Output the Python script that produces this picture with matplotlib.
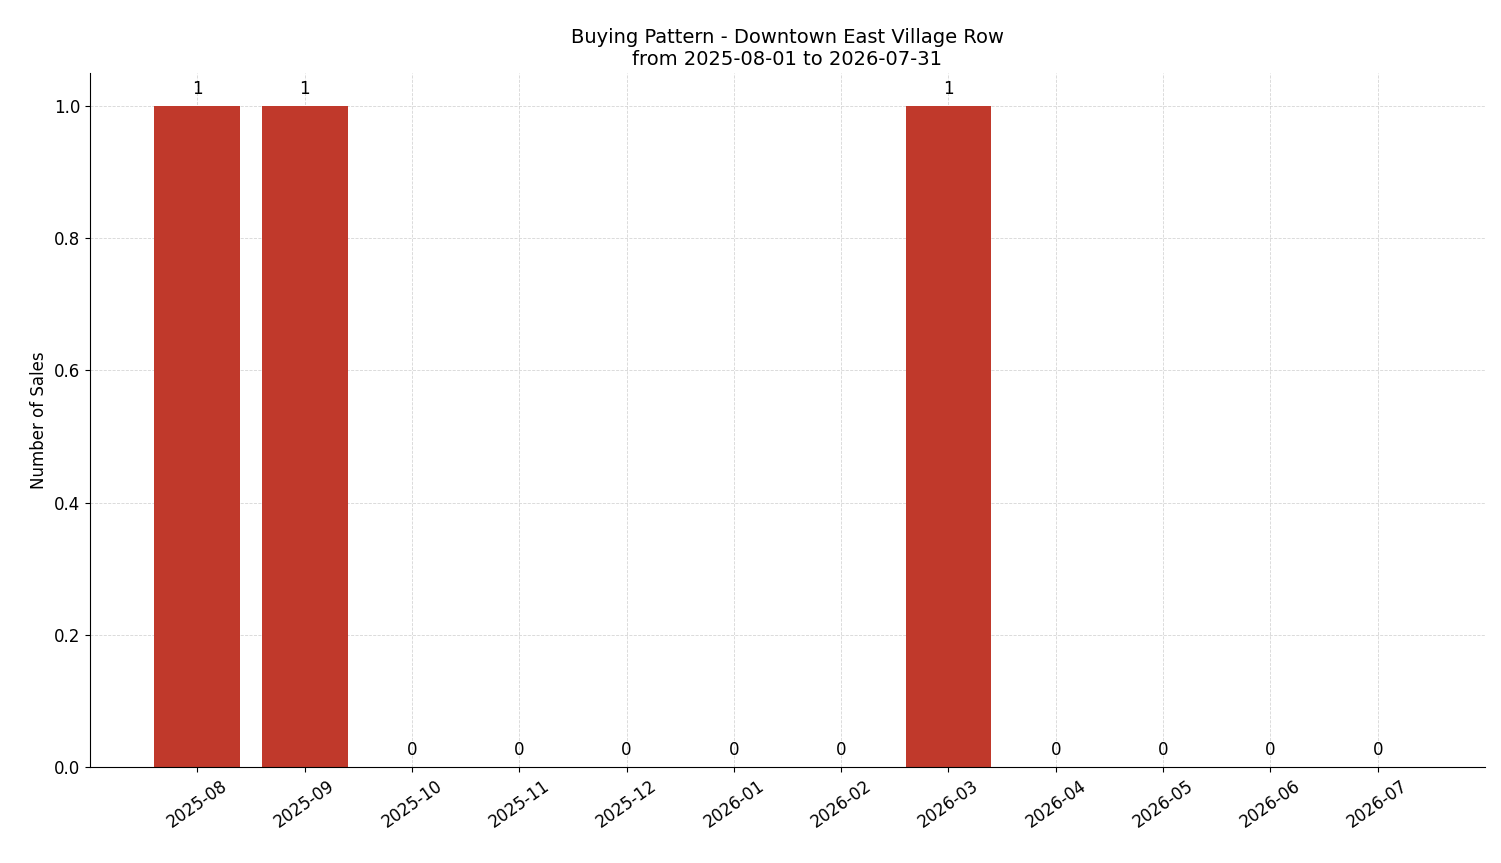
import matplotlib
matplotlib.use("Agg")
import matplotlib.pyplot as plt

months = ["2025-08","2025-09","2025-10","2025-11","2025-12","2026-01","2026-02","2026-03","2026-04","2026-05","2026-06","2026-07"]
sales = [1,1,0,0,0,0,0,1,0,0,0,0]

fig = plt.figure(figsize=(15.01,8.63), dpi=100)
ax = fig.add_axes([90/1501, 1-767/863, (1485-90)/1501, (767-73)/863])
x = list(range(len(months)))
bars = ax.bar(x, sales, width=0.8, color="#c0392b", zorder=2)
for xi, v in zip(x, sales):
    ax.text(xi, v + 0.012, str(v), ha="center", va="bottom", fontsize=12, zorder=4)
ax.set_xticks(x)
ax.set_xticklabels(months, rotation=35, fontsize=12)
ax.tick_params(axis="y", labelsize=12)
ax.set_xlim(-1, 12)
ax.set_ylim(0, 1.05)
ax.grid(True, linestyle="--", linewidth=0.6, color="#cccccc", alpha=0.8, zorder=3)
ax.spines["top"].set_visible(False)
ax.spines["right"].set_visible(False)
ax.set_ylabel("Number of Sales", fontsize=12)
ax.set_title("Buying Pattern - Downtown East Village Row\nfrom 2025-08-01 to 2026-07-31", fontsize=14)
fig.savefig("out.png", dpi=100)
